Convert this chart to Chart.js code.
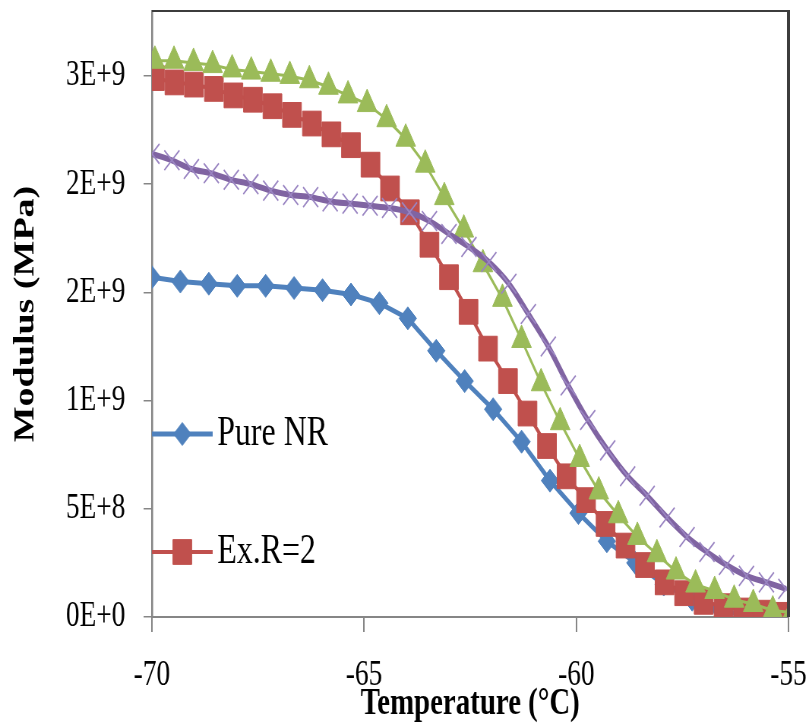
<!DOCTYPE html>
<html>
<head>
<meta charset="utf-8">
<script src="https://cdn.jsdelivr.net/npm/chart.js@4/dist/chart.umd.min.js"></script>
<style>
  html, body { margin: 0; padding: 0; background: #fff; overflow: hidden; }
  #wrap { width: 809px; height: 727px; overflow: hidden; }
  /* the source picture is squeezed sideways, so the chart is drawn wider and scaled back */
  #chart { display: block; transform: scaleX(0.7596); transform-origin: 0 0; }
</style>
</head>
<body>
<div id="wrap"><canvas id="chart" width="1065" height="727"></canvas></div>
<script>
const serif = "'Liberation Serif', 'Times New Roman', serif";

// axis ticks
const xTickValues = [-70, -65, -60, -55];
const yTickValues = [0, 5e8, 1e9, 1.5e9, 2e9, 2.5e9];

// temperatures (°C) of each series
const pureNRTemp = [-70, -69.33, -68.66, -67.99, -67.32, -66.65, -65.98, -65.31, -64.64, -63.97,
  -63.30, -62.63, -61.96, -61.29, -60.62, -59.95, -59.28, -58.61, -57.94, -57.27, -56.60, -55.93, -55.26];
const exR2Temp = [-69.93, -69.47, -69.01, -68.54, -68.08, -67.62, -67.16, -66.70, -66.23, -65.77,
  -65.31, -64.85, -64.39, -63.92, -63.46, -63.00, -62.54, -62.08, -61.61, -61.15, -60.69, -60.23,
  -59.77, -59.31, -58.84, -58.38, -57.92, -57.46, -57.00, -56.53, -56.07, -55.61, -55.15];
const series3Temp = [-69.93, -69.48, -69.02, -68.57, -68.11, -67.66, -67.20, -66.75, -66.29, -65.84,
  -65.38, -64.93, -64.47, -64.02, -63.56, -63.11, -62.65, -62.20, -61.74, -61.29, -60.83, -60.38,
  -59.92, -59.47, -59.01, -58.56, -58.10, -57.65, -57.19, -56.74, -56.28, -55.83, -55.37, -54.92];
const series4Temp = [-70.00, -69.53, -69.07, -68.60, -68.13, -67.67, -67.20, -66.73, -66.26, -65.80,
  -65.33, -64.86, -64.40, -63.93, -63.46, -63.00, -62.53, -62.06, -61.59, -61.13, -60.66, -60.19,
  -59.73, -59.26, -58.79, -58.33, -57.86, -57.39, -56.92, -56.46, -55.99, -55.52, -55.06];

// modulus values
const pureNR = [1.57e9, 1.55e9, 1.54e9, 1.53e9, 1.53e9, 1.52e9, 1.51e9, 1.49e9, 1.45e9, 1.38e9,
  1.23e9, 1.09e9, 0.96e9, 0.81e9, 0.63e9, 0.48e9, 0.35e9, 0.25e9, 0.15e9, 0.08e9, 0.03e9, 0.005e9, -0.01e9];
const exR2 = [2.49e9, 2.47e9, 2.46e9, 2.44e9, 2.41e9, 2.39e9, 2.36e9, 2.32e9, 2.28e9, 2.23e9,
  2.18e9, 2.09e9, 1.98e9, 1.87e9, 1.72e9, 1.57e9, 1.41e9, 1.24e9, 1.09e9, 0.94e9, 0.79e9, 0.65e9,
  0.54e9, 0.43e9, 0.33e9, 0.24e9, 0.16e9, 0.11e9, 0.07e9, 0.05e9, 0.03e9, 0.02e9, 0.01e9];
const series3 = [2.57e9, 2.57e9, 2.56e9, 2.55e9, 2.53e9, 2.52e9, 2.51e9, 2.50e9, 2.48e9, 2.45e9,
  2.41e9, 2.37e9, 2.30e9, 2.21e9, 2.09e9, 1.94e9, 1.79e9, 1.63e9, 1.47e9, 1.28e9, 1.08e9, 0.90e9,
  0.73e9, 0.58e9, 0.47e9, 0.37e9, 0.29e9, 0.21e9, 0.15e9, 0.12e9, 0.08e9, 0.06e9, 0.03e9, 0.02e9];
const series4 = [2.14e9, 2.11e9, 2.07e9, 2.05e9, 2.02e9, 2.00e9, 1.97e9, 1.95e9, 1.94e9, 1.92e9,
  1.91e9, 1.90e9, 1.89e9, 1.87e9, 1.83e9, 1.77e9, 1.71e9, 1.64e9, 1.54e9, 1.40e9, 1.25e9, 1.07e9,
  0.91e9, 0.77e9, 0.65e9, 0.56e9, 0.46e9, 0.37e9, 0.30e9, 0.24e9, 0.19e9, 0.16e9, 0.13e9];

const toPoints = (xs, ys) => xs.map((x, i) => ({ x: x, y: ys[i] }));

// top and right edge of the plot box
const framePlugin = {
  id: 'frame',
  afterDraw(chart) {
    const { ctx, chartArea: a } = chart;
    ctx.save();
    ctx.strokeStyle = '#3c3c3c';
    ctx.lineWidth = 2;
    ctx.beginPath();
    ctx.moveTo(a.left, a.top);
    ctx.lineTo(a.right, a.top);
    ctx.stroke();
    ctx.lineWidth = 4;
    ctx.beginPath();
    ctx.moveTo(a.right, a.top - 1);
    ctx.lineTo(a.right, a.bottom);
    ctx.stroke();
    ctx.restore();
  }
};

// legend sitting inside the plot, only the first two series show
const insideLegend = {
  id: 'insideLegend',
  afterDatasetsDraw(chart, args, opts) {
    const ctx = chart.ctx;
    opts.rows.forEach(row => {
      const ds = chart.data.datasets[row.index];
      ctx.save();
      ctx.strokeStyle = ds.borderColor;
      ctx.lineWidth = ds.borderWidth;
      ctx.beginPath();
      ctx.moveTo(opts.lineFrom, row.y);
      ctx.lineTo(opts.lineTo, row.y);
      ctx.stroke();
      ctx.fillStyle = ds.pointBackgroundColor;
      ctx.strokeStyle = ds.pointBorderColor;
      ctx.lineWidth = ds.pointBorderWidth;
      Chart.helpers.drawPoint(ctx, {
        pointStyle: ds.pointStyle, radius: ds.pointRadius, rotation: 0, borderWidth: ds.pointBorderWidth
      }, (opts.lineFrom + opts.lineTo) / 2, row.y);
      ctx.fillStyle = '#000';
      ctx.font = '42px ' + serif;
      ctx.textAlign = 'left';
      ctx.textBaseline = 'middle';
      ctx.fillText(ds.label, opts.textX, row.y);
      ctx.restore();
    });
  }
};

new Chart(document.getElementById('chart'), {
  type: 'line',
  data: {
    datasets: [
      {
        label: 'Pure NR',
        data: toPoints(pureNRTemp, pureNR),
        borderColor: '#4F81BD', backgroundColor: '#4F81BD', borderWidth: 5,
        pointStyle: 'rectRot', pointRadius: 11.5,
        pointBackgroundColor: '#4F81BD', pointBorderColor: '#4F81BD', pointBorderWidth: 1,
        tension: 0, order: 4
      },
      {
        label: 'Ex.R=2',
        data: toPoints(exR2Temp, exR2),
        borderColor: '#C0504D', backgroundColor: '#C0504D', borderWidth: 4,
        pointStyle: 'rect', pointRadius: 17.5,
        pointBackgroundColor: '#C0504D', pointBorderColor: '#C0504D', pointBorderWidth: 1,
        tension: 0, order: 3
      },
      {
        label: 'Series 3',
        data: toPoints(series3Temp, series3),
        borderColor: '#9BBB59', backgroundColor: '#9BBB59', borderWidth: 3,
        pointStyle: 'triangle', pointRadius: 15,
        pointBackgroundColor: '#9BBB59', pointBorderColor: '#9BBB59', pointBorderWidth: 1,
        tension: 0, order: 2
      },
      {
        label: 'Series 4',
        data: toPoints(series4Temp, series4),
        borderColor: '#8064A2', backgroundColor: '#8064A2', borderWidth: 6,
        pointStyle: 'crossRot', pointRadius: 14,
        pointBackgroundColor: '#9A85C2', pointBorderColor: '#9A85C2', pointBorderWidth: 1.8,
        cubicInterpolationMode: 'monotone', order: 1
      }
    ]
  },
  options: {
    responsive: false,
    animation: false,
    devicePixelRatio: 1,
    layout: { autoPadding: false, padding: { top: 11, right: 27, left: 0, bottom: 0 } },
    plugins: {
      legend: { display: false },
      tooltip: { enabled: false },
      insideLegend: {
        lineFrom: 200, lineTo: 280, textX: 286,
        rows: [{ index: 0, y: 434 }, { index: 1, y: 552 }]
      }
    },
    scales: {
      x: {
        type: 'linear', min: -70, max: -55,
        afterBuildTicks: s => { s.ticks = xTickValues.map(v => ({ value: v })); },
        afterFit: s => { s.height = 110; s.paddingLeft = 0; s.paddingRight = 0; },
        border: { color: '#868686', width: 2 },
        grid: { drawOnChartArea: false, tickLength: 15, color: '#868686', lineWidth: 2 },
        ticks: { padding: 22, maxRotation: 0, color: '#000', font: { family: serif, size: 36 } },
        title: {
          display: true, text: 'Temperature (°C)', color: '#000',
          font: { family: serif, size: 38, weight: 'bold' }, padding: { top: 0, bottom: 0 }
        }
      },
      y: {
        min: 0, max: 2.8e9,
        afterBuildTicks: s => { s.ticks = yTickValues.map(v => ({ value: v })); },
        afterFit: s => { s.width = 200; s.paddingTop = 0; s.paddingBottom = 0; },
        border: { color: '#868686', width: 2.6 },
        grid: { drawOnChartArea: false, tickLength: 11, color: '#868686', lineWidth: 1.5 },
        ticks: {
          padding: 24, color: '#000',
          font: { family: serif, size: 36 },
          callback: v => v.toExponential(0).toUpperCase()
        },
        title: {
          display: true, text: 'Modulus (MPa)', color: '#000',
          font: { family: serif, size: 38, weight: 'bold' }, padding: { top: 11, bottom: 0 }
        }
      }
    }
  },
  plugins: [framePlugin, insideLegend]
});
</script>
</body>
</html>
